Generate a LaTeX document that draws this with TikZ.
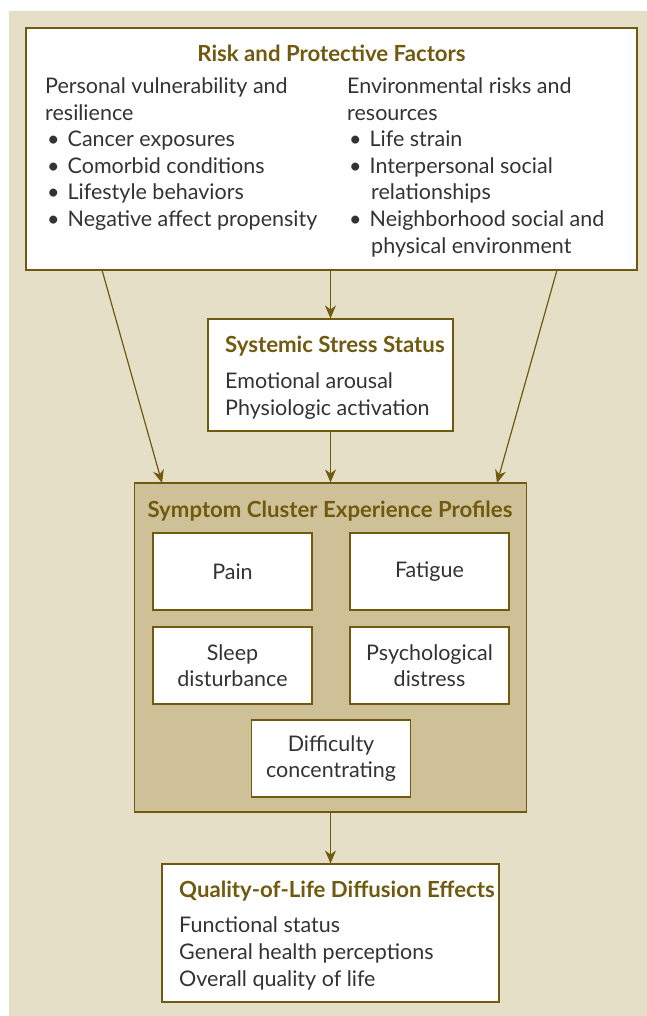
\documentclass[tikz,border=0pt]{standalone}
\usepackage{fontspec}
\setmainfont{Lato}
\usetikzlibrary{arrows.meta}
\definecolor{bgbeige}{HTML}{E6DFC7}
\definecolor{tanbox}{HTML}{CFC197}
\definecolor{olive}{HTML}{6F5A10}
\definecolor{txt}{HTML}{333333}
\begin{document}
\begin{tikzpicture}[x=1pt,y=-1pt,
  box/.style={draw=olive,line width=1.1pt,fill=white,inner sep=0pt},
  sbox/.style={box,minimum width=159pt,minimum height=77pt,align=center,text=txt,font=\fontsize{21.5}{25.5}\selectfont},
  ttl/.style={text=olive,font=\fontsize{22.2}{24}\selectfont\bfseries,inner sep=0pt},
  ln/.style={anchor=base west,text=txt,font=\fontsize{21.5}{24}\selectfont,inner sep=0pt},
  arr/.style={draw=olive,line width=1.2pt,-{Stealth[length=13pt,width=11pt,inset=4pt]}}]
\useasboundingbox (0,0) rectangle (647,1016);
\fill[white] (0,0) rectangle (647,1016);
\fill[bgbeige] (9,11) rectangle (647,1016);
% top box
\node[box,minimum width=611pt,minimum height=242pt] (risk) at (331.5,149) {};
\node[ttl,anchor=base] (riskt) at (331.5,62) {Risk and Protective Factors};
\node[ln] (l1) at (45,94) {Personal vulnerability and};
\node[ln] (l2) at (45,120.5) {resilience};
\node[ln] (l3) at (47,147) {\textbullet\hspace{8pt}Cancer exposures};
\node[ln] (l4) at (47,173.5) {\textbullet\hspace{8pt}Comorbid conditions};
\node[ln] (l5) at (47,200) {\textbullet\hspace{8pt}Lifestyle behaviors};
\node[ln] (l6) at (47,226.5) {\textbullet\hspace{8pt}Negative affect propensity};
\node[ln] (r1) at (347,94) {Environmental risks and};
\node[ln] (r2) at (347,120.5) {resources};
\node[ln] (r3) at (349,147) {\textbullet\hspace{8pt}Life strain};
\node[ln] (r4) at (349,173.5) {\textbullet\hspace{8pt}Interpersonal social};
\node[ln] (r5) at (371,200) {relationships};
\node[ln] (r6) at (349,226.5) {\textbullet\hspace{8pt}Neighborhood social and};
\node[ln] (r7) at (371,253) {physical environment};
% stress box
\node[box,minimum width=245pt,minimum height=112pt] (stress) at (330.5,375) {};
\node[ttl,anchor=base west] (stresst) at (225,352) {Systemic Stress Status};
\node[ln] (s1) at (225,388) {Emotional arousal};
\node[ln] (s2) at (225,415) {Physiologic activation};
% cluster box
\node[draw=olive,line width=1.1pt,fill=tanbox,minimum width=392pt,minimum height=329pt,inner sep=0pt] (cluster) at (330.5,647.5) {};
\node[ttl,anchor=base] (clustert) at (330,517) {Symptom Cluster Experience Profiles};
\node[sbox] (pain) at (232.5,571.5) {Pain};
\node[sbox] (fatigue) at (429.5,571.5) {Fatigue};
\node[sbox] (sleep) at (232.5,665.5) {Sleep\\disturbance};
\node[sbox] (psych) at (429.5,665.5) {Psychological\\distress};
\node[sbox] (diff) at (331,758.5) {Difficulty\\concentrating};
% QoL box
\node[box,minimum width=337pt,minimum height=138pt] (qol) at (330.5,933) {};
\node[ttl,anchor=base west] (qolt) at (179,897) {Quality-of-Life Diffusion Effects};
\node[ln] (q1) at (179,932) {Functional status};
\node[ln] (q2) at (179,959) {General health perceptions};
\node[ln] (q3) at (179,986) {Overall quality of life};
% connectors
\coordinate (riskL) at (102,270);
\coordinate (riskR) at (557,270);
\coordinate (clL) at (162,483);
\coordinate (clR) at (497,483);
\draw[arr] (riskL) -- (clL);
\draw[arr] (riskR) -- (clR);
\draw[arr] (risk.south -| stress.north) -- (stress.north);
\draw[arr] (stress.south) -- (stress.south |- cluster.north);
\draw[arr] (cluster.south) -- (cluster.south |- qol.north);
\end{tikzpicture}
\end{document}
